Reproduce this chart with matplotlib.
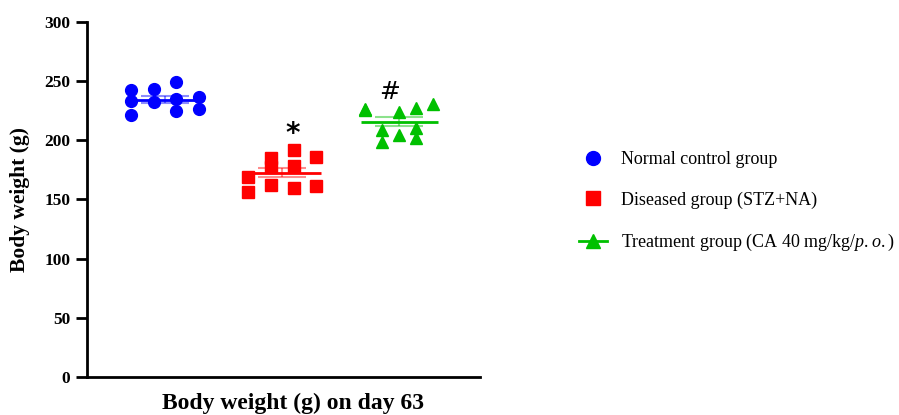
import numpy as np
import matplotlib
matplotlib.use("Agg")
import matplotlib.pyplot as plt
from matplotlib.lines import Line2D

plt.rcParams['font.family'] = ['Liberation Serif', 'DejaVu Serif']
plt.rcParams['mathtext.fontset'] = 'custom'
plt.rcParams['mathtext.rm'] = 'Liberation Serif'
plt.rcParams['mathtext.it'] = 'Liberation Serif:italic'

# values (g)
normal = [242.5, 233.2, 221.4, 243.4, 232.4, 249.3, 234.9, 224.8, 236.6, 226.5]
diseased = [169.0, 156.3, 185.1, 177.5, 162.2, 191.8, 178.3, 159.7, 185.9, 161.4]
treated = [225.6, 226.2, 208.7, 198.9, 224.2, 204.5, 227.1, 210.7, 201.7, 230.4]
# swarm column of each point
normal_slot = [0, 0, 0, 1, 1, 2, 2, 2, 3, 3]
diseased_slot = [0, 0, 1, 1, 1, 2, 2, 2, 3, 3]
treated_slot = [0, 0, 1, 1, 2, 2, 3, 3, 3, 4]

labels = ["Normal control group", "Diseased group (STZ+NA)",
          "Treatment group (CA 40 mg/kg/$\\mathit{p.o.}$)"]
marks = ["", "*", "#"]

groups = [normal, diseased, treated]
slots = [normal_slot, diseased_slot, treated_slot]
colors = ["#0000FF", "#FF0000", "#00C000"]
markers = ["o", "s", "^"]
msizes = [8.5, 8, 8.5]

fig = plt.figure(figsize=(8.99, 4.15), dpi=100)
ax = fig.add_axes([0.0968, 0.0916, 0.4372, 0.8554])

for i, (vals, sl) in enumerate(zip(groups, slots)):
    vals = np.array(vals)
    sl = np.array(sl)
    ncol = sl.max() + 1
    xs = (i + 1) - 0.29 + sl * 0.58 / (ncol - 1)
    ax.plot(xs, vals, linestyle="none", marker=markers[i], ms=msizes[i],
            color=colors[i], zorder=3)
    m = vals.mean()
    sem = vals.std(ddof=1) / np.sqrt(len(vals))
    ax.hlines(m, i + 1 - 0.33, i + 1 + 0.33, color=colors[i], lw=2, zorder=4)
    ax.errorbar(i + 1, m, yerr=sem, color=colors[i], alpha=0.45, lw=1.5,
                capsize=17, capthick=1.5, zorder=4)
    if marks[i] == "*":
        ax.text(i + 1.09, vals.max() + 2, marks[i], ha="center", va="bottom",
                fontsize=20, fontweight="bold", family="DejaVu Sans")
    elif marks[i]:
        ax.text(i + 0.92, vals.max() + 0, marks[i], ha="center", va="bottom",
                fontsize=18, family="DejaVu Sans")

ax.set_xlim(0.333, 3.69)
ax.set_ylim(0, 300)
ax.set_yticks([0, 50, 100, 150, 200, 250, 300])
ax.set_xticks([])
for s in ["top", "right"]:
    ax.spines[s].set_visible(False)
for s in ["left", "bottom"]:
    ax.spines[s].set_linewidth(2)
ax.tick_params(axis="y", length=8, width=2, labelsize=12.5, pad=4)
for t in ax.get_yticklabels():
    t.set_fontweight("bold")
ax.set_ylabel("Body weight (g)", fontsize=15.5, fontweight="bold")
ax.yaxis.set_label_coords(-0.145, 0.5)
ax.set_xlabel("Body weight (g) on day 63", fontsize=17, fontweight="bold")
ax.xaxis.set_label_coords(0.524, -0.045)

handles = [
    Line2D([], [], linestyle="none", marker="o", ms=10, color=colors[0]),
    Line2D([], [], linestyle="none", marker="s", ms=10, color=colors[1]),
    Line2D([], [], linestyle="-", lw=2, marker="^", ms=10, color=colors[2]),
]
fig.legend(handles, labels, loc="center left", bbox_to_anchor=(0.6255, 0.513),
           frameon=False, fontsize=13, labelspacing=1.3, handlelength=1.6,
           handletextpad=0.75)

fig.savefig("out.png", dpi=100)
